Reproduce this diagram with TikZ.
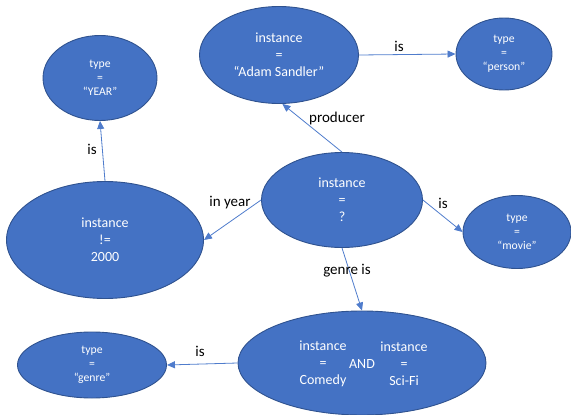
\documentclass[tikz,border=0pt]{standalone}
\usepackage{fontspec}
\setmainfont{Carlito}
\usetikzlibrary{arrows.meta,shapes.geometric}
\definecolor{nodefill}{RGB}{68,114,196}
\definecolor{nodeedge}{RGB}{47,82,143}
\definecolor{linkcol}{RGB}{79,124,204}
\begin{document}
\begin{tikzpicture}[x=1pt,y=-1pt,
  blob/.style={ellipse,fill=nodefill,draw=nodeedge,line width=0.9pt,inner sep=0pt,text=white,align=center},
  bigtxt/.style={font=\fontsize{14}{17}\selectfont},
  smalltxt/.style={font=\fontsize{11.7}{14}\selectfont},
  intext/.style={text=white,align=center,inner sep=0pt,bigtxt},
  link/.style={draw=linkcol,line width=0.8pt,-{Triangle[length=8pt,width=7pt]}},
  lbl/.style={font=\fontsize{15}{18}\selectfont,text=black,inner sep=0pt}]
\useasboundingbox (0,0) rectangle (571,415);

% concept nodes
\node[blob,smalltxt,minimum width=114pt,minimum height=85pt] (year) at (100,78) {type\\=\\“YEAR”};
\node[blob,bigtxt,minimum width=159pt,minimum height=97pt] (adam) at (279,55) {instance\\=\\“Adam Sandler”};
\node[blob,smalltxt,minimum width=96pt,minimum height=72pt] (person) at (504,54) {type\\=\\“person”};
\node[blob,bigtxt,minimum width=161pt,minimum height=95pt] (query) at (342,200) {instance\\=\\?};
\node[blob,bigtxt,minimum width=197pt,minimum height=117pt] (notyear) at (105,240) {instance\\!=\\2000};
\node[blob,smalltxt,minimum width=108pt,minimum height=73pt] (movie) at (517,232) {type\\=\\“movie”};
\node[blob,minimum width=248pt,minimum height=104pt] (genres) at (362,363) {};
\node[blob,smalltxt,minimum width=149pt,minimum height=66pt] (genre) at (92,365) {type\\=\\“genre”};

% contents of the combined genre node
\node[intext] (genL) at (323,364) {instance\\=\\Comedy};
\node[intext] (genAnd) at (362,364) {AND};
\node[intext] (genR) at (404,364) {instance\\=\\Sci-Fi};

% relations
\draw[link] (notyear.north) -- (year.south);
\draw[link] (query.north) -- (adam.-86);
\draw[link] (adam.east) -- (person.west);
\draw[link] (query.west) -- (notyear.east);
\draw[link] (query.east) -- (movie.west);
\draw[link] (query.south) -- (genres.north);
\draw[link] (genres.west) -- (genre.east);

% relation labels
\node[lbl] (isYear) at (92,149) {is};
\node[lbl] (producer) at (337,119) {producer};
\node[lbl] (isPerson) at (399,46) {is};
\node[lbl] (inYear) at (230,203) {in year};
\node[lbl] (isMovie) at (443,203) {is};
\node[lbl] (genreIs) at (347,271) {genre is};
\node[lbl] (isGenre) at (200,351) {is};
\end{tikzpicture}
\end{document}
